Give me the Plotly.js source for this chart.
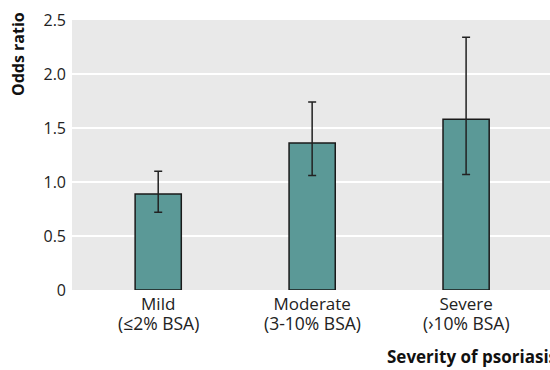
<!DOCTYPE html>
<html>
<head>
<meta charset="utf-8">
<script src="https://cdn.plot.ly/plotly-3.0.1.min.js"></script>
<style>html,body{margin:0;padding:0;background:#fff;}#chart{width:550px;height:370px;}</style>
</head>
<body>
<div id="chart"></div>
<script>
var categoryNames = ["Mild", "Moderate", "Severe"];
var categoryRanges = ["(≤2% BSA)", "(3-10% BSA)", "(\u203A10% BSA)"];
var oddsRatio = [0.89, 1.36, 1.58];
var ciUpper = [1.10, 1.74, 2.34];
var ciLower = [0.72, 1.06, 1.07];
var yTickVals = [0, 0.5, 1.0, 1.5, 2.0, 2.5];
var yTickText = ["0", "0.5", "1.0", "1.5", "2.0", "2.5"];

var errPlus = oddsRatio.map(function(v, i){ return ciUpper[i] - v; });
var errMinus = oddsRatio.map(function(v, i){ return v - ciLower[i]; });
var xIdx = categoryNames.map(function(_, i){ return i; });

var font = "'Open Sans', 'Noto Sans', sans-serif";
var trace = {
  type: 'bar',
  x: xIdx,
  y: oddsRatio,
  marker: {color: '#5b9997', line: {color: '#1a1a1a', width: 1.5}},
  error_y: {type: 'data', symmetric: false, array: errPlus, arrayminus: errMinus,
            color: '#222222', thickness: 1.5, width: 4},
  hoverinfo: 'none'
};
var annotations = categoryRanges.map(function(t, i){
  return {text: t, xref: 'x', yref: 'paper', x: i, y: 0, xanchor: 'center', yanchor: 'top',
          yshift: -19, showarrow: false, font: {family: font, size: 17.5, color: '#222'}};
});
annotations.push({
  text: '<b>Severity of psoriasis</b>', xref: 'paper', yref: 'paper',
  x: 0, y: 0, xanchor: 'left', yanchor: 'top', yshift: -53, xshift: 313,
  showarrow: false, font: {family: font, size: 17, color: '#111'}
});
annotations.push({
  text: '<b>Odds ratio</b>', xref: 'paper', yref: 'paper', textangle: -90,
  x: 0, y: 1, xanchor: 'center', yanchor: 'middle', xshift: -54, yshift: -34,
  showarrow: false, font: {family: font, size: 16, color: '#111'}
});

var layout = {
  width: 550, height: 370,
  margin: {l: 72, r: 0, t: 20, b: 80},
  paper_bgcolor: '#ffffff',
  plot_bgcolor: '#e9e9e9',
  bargap: 0.70,
  showlegend: false,
  font: {family: font, size: 16, color: '#222'},
  xaxis: {
    range: [-0.56, 2.545],
    tickmode: 'array', tickvals: xIdx, ticktext: categoryNames,
    showgrid: false, zeroline: false, showline: false, ticks: '',
    ticklabelstandoff: 2,
    tickfont: {family: font, size: 17, color: '#222'},
    fixedrange: true
  },
  yaxis: {
    range: [0, 2.5],
    tickmode: 'array', tickvals: yTickVals, ticktext: yTickText,
    showgrid: true, gridcolor: '#ffffff', gridwidth: 2,
    zeroline: false, showline: false, ticks: '',
    ticklabelstandoff: 5,
    tickfont: {family: font, size: 16, color: '#222'},
    fixedrange: true
  },
  annotations: annotations
};
Plotly.newPlot('chart', [trace], layout, {displayModeBar: false, staticPlot: true});
</script>
</body>
</html>
